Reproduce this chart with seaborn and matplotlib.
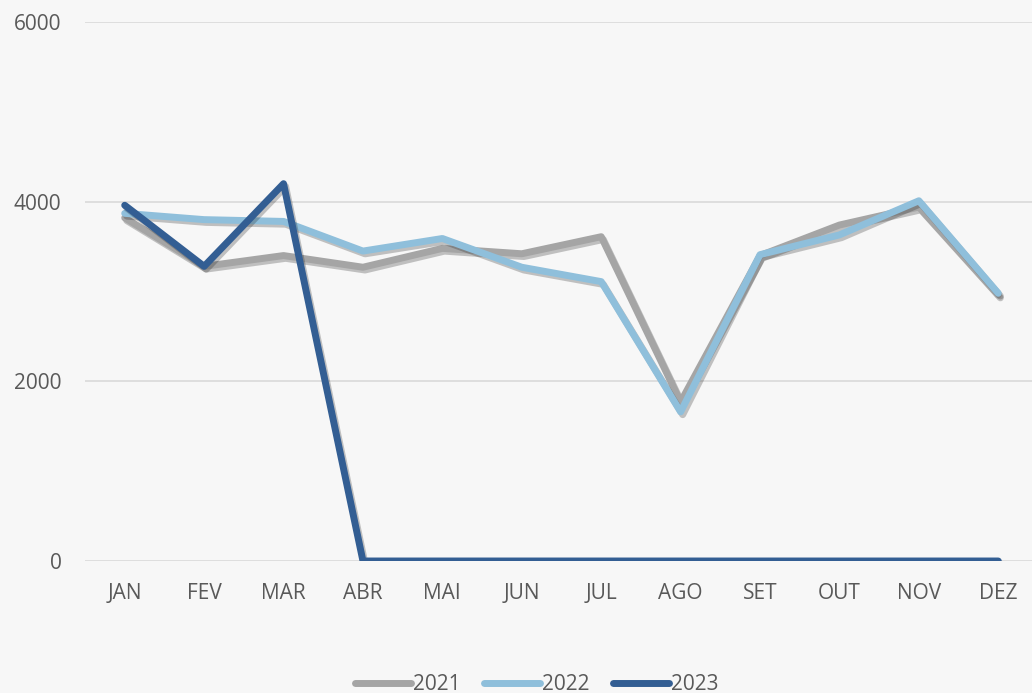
import matplotlib
matplotlib.use("Agg")
import matplotlib.pyplot as plt
import matplotlib.patheffects as pe
import pandas as pd
import seaborn as sns

months = ["JAN", "FEV", "MAR", "ABR", "MAI", "JUN",
          "JUL", "AGO", "SET", "OUT", "NOV", "DEZ"]
vals_2021 = [3820, 3280, 3400, 3270, 3480, 3420, 3610, 1770, 3400, 3740, 3940, 2960]
vals_2022 = [3870, 3800, 3780, 3450, 3590, 3270, 3110, 1660, 3410, 3630, 4010, 2980]
vals_2023 = [3960, 3280, 4200, 0, 0, 0, 0, 0, 0, 0, 0, 0]
years = ["2021", "2022", "2023"]
colors = ["#a5a5a5", "#8fbfdb", "#335e93"]

df = pd.concat([
    pd.DataFrame({"mes": months, "valor": v, "ano": y})
    for y, v in zip(years, [vals_2021, vals_2022, vals_2023])
])

BG = "#f7f7f7"
TXT = "#595959"

sns.set_theme(style="white")
plt.rcParams["font.family"] = ["Open Sans", "DejaVu Sans"]

fig = plt.figure(figsize=(10.32, 6.93), dpi=100, facecolor=BG)
ax = fig.add_axes([85 / 1032, 132 / 693, 953 / 1032, 539 / 693])
ax.set_facecolor(BG)

sns.lineplot(data=df, x="mes", y="valor", hue="ano", hue_order=years,
             palette=colors, linewidth=5, sort=False, legend=False, ax=ax,
             solid_capstyle="round", solid_joinstyle="round",
             path_effects=[pe.SimpleLineShadow(offset=(1.5, -2), shadow_color="k", alpha=0.25),
                           pe.Normal()])

ax.set_xlim(-0.5, 11.5)
ax.set_ylim(0, 6000)
ax.set_yticks([0, 2000, 4000, 6000])
ax.grid(axis="y", color="#d9d9d9", linewidth=1.2)
ax.set_axisbelow(True)
for s in ax.spines.values():
    s.set_visible(False)
ax.set_xlabel("")
ax.set_ylabel("")
ax.tick_params(axis="both", length=0, labelsize=15, colors=TXT)
ax.tick_params(axis="x", pad=16)
ax.tick_params(axis="y", pad=17)

handles = [plt.Line2D([], [], color=c, linewidth=5, solid_capstyle="round") for c in colors]
fig.legend(handles, years, loc="lower center", bbox_to_anchor=(0.52, -0.03),
           ncol=3, frameon=False, fontsize=15, labelcolor=TXT,
           handlelength=2.7, handletextpad=0.1, columnspacing=1.1)

fig.savefig("out.png", dpi=100, facecolor=BG)
